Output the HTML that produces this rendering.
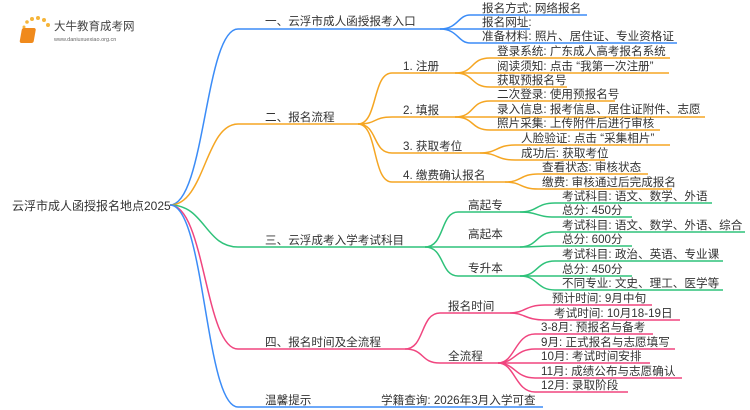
<!DOCTYPE html>
<html><head><meta charset="utf-8"><style>
html,body{margin:0;padding:0;background:#fff;width:750px;height:410px;overflow:hidden}
svg{display:block}
text{font-family:"Liberation Sans","Noto Sans CJK SC",sans-serif;font-size:11.6px;fill:#333}
path{fill:none;stroke-width:1.5}
.b{stroke:#3b8cf7}.o{stroke:#f5a623}.g{stroke:#2fc27a}.p{stroke:#f0457f}
</style></head><body>
<svg width="750" height="410" viewBox="0 0 750 410" xmlns="http://www.w3.org/2000/svg">
<g>
<circle cx="24" cy="27" r="1.5" fill="#f5b53a"/><circle cx="27" cy="22" r="1.8" fill="#f5b53a"/><circle cx="32" cy="19" r="2" fill="#f5b53a"/><circle cx="38" cy="18" r="2" fill="#f5b53a"/><circle cx="44" cy="20" r="2" fill="#f5b53a"/><circle cx="48" cy="25" r="2" fill="#f5b53a"/>
<rect x="27" y="28" width="14" height="15" rx="2" fill="#f08a1c" transform="skewX(-10)"/>
<text x="54" y="30" style="font-size:11.5px;fill:#444">大牛教育成考网</text>
<text x="54" y="41" style="font-size:5.5px;fill:#666">www.daniuxuexiao.org.cn</text>
</g>
<text x="12" y="210" style="font-size:12px">云浮市成人函授报名地点2025</text>
<path class="b" d="M170 205 C205 205 205 29 238 29 H440"/>
<path class="o" d="M170 205 C205 205 205 124 238 124 H358"/>
<path class="g" d="M170 205 C205 205 205 247 238 247 H425"/>
<path class="p" d="M170 205 C205 205 205 349 238 349 H405"/>
<path class="b" d="M170 205 C205 205 205 407 238 407 H543"/>
<text x="265" y="25">一、云浮市成人函授报考入口</text>
<text x="265" y="121">二、报名流程</text>
<text x="265" y="244">三、云浮成考入学考试科目</text>
<text x="265" y="346">四、报名时间及全流程</text>
<text x="265" y="404">温馨提示</text>
<text x="381" y="404">学籍查询: 2026年3月入学可查</text>
<path class="b" d="M440 29 C458 29 458 15 470 15 H587"/>
<path class="b" d="M440 29 H530"/>
<path class="b" d="M440 29 C458 29 458 43 470 43 H677"/>
<text x="482" y="12">报名方式: 网络报名</text>
<text x="482" y="26">报名网址:</text>
<text x="482" y="40">准备材料: 照片、居住证、专业资格证</text>
<path class="o" d="M358 124 C378 124 372 73 392 73 H455"/>
<path class="o" d="M358 124 C378 124 372 117 392 117 H455"/>
<path class="o" d="M358 124 C378 124 372 153 392 153 H480"/>
<path class="o" d="M358 124 C378 124 372 182 392 182 H505"/>
<text x="403" y="70">1. 注册</text>
<text x="403" y="114">2. 填报</text>
<text x="403" y="150">3. 获取考位</text>
<text x="403" y="179">4. 缴费确认报名</text>
<path class="o" d="M455 73 C475 73 470 58 490 58 H670"/>
<path class="o" d="M455 73 H669"/>
<path class="o" d="M455 73 C475 73 470 87 490 87 H567"/>
<text x="497" y="55">登录系统: 广东成人高考报名系统</text>
<text x="497" y="70">阅读须知: 点击 “我第一次注册”</text>
<text x="497" y="84">获取预报名号</text>
<path class="o" d="M455 117 C475 117 470 101 490 101 H615"/>
<path class="o" d="M455 117 H705"/>
<path class="o" d="M455 117 C475 117 470 130 490 130 H660"/>
<text x="497" y="98">二次登录: 使用预报名号</text>
<text x="497" y="113">录入信息: 报考信息、居住证附件、志愿</text>
<text x="497" y="127">照片采集: 上传附件后进行审核</text>
<path class="o" d="M480 153 C498 153 496 145 515 145 H670"/>
<path class="o" d="M480 153 C498 153 496 160 515 160 H605"/>
<text x="521" y="142">人脸验证: 点击 “采集相片”</text>
<text x="521" y="157">成功后: 获取考位</text>
<path class="o" d="M505 182 C522 182 520 174 538 174 H648"/>
<path class="o" d="M505 182 C522 182 520 189 538 189 H672"/>
<text x="542" y="171">查看状态: 审核状态</text>
<text x="542" y="186">缴费: 审核通过后完成报名</text>
<path class="g" d="M425 247 C445 247 440 212 458 212 H520"/>
<path class="g" d="M425 247 H520"/>
<path class="g" d="M425 247 C445 247 440 276 458 276 H520"/>
<text x="468" y="209">高起专</text>
<text x="468" y="238">高起本</text>
<text x="468" y="272">专升本</text>
<path class="g" d="M520 212 C538 212 536 203 555 203 H712"/>
<path class="g" d="M520 212 C538 212 536 217 555 217 H632"/>
<path class="g" d="M520 247 C538 247 536 232 555 232 H745"/>
<path class="g" d="M520 247 C538 247 536 246 555 246 H632"/>
<path class="g" d="M520 276 C538 276 536 261 555 261 H723"/>
<path class="g" d="M520 276 H632"/>
<path class="g" d="M520 276 C538 276 536 290 555 290 H723"/>
<text x="562" y="200">考试科目: 语文、数学、外语</text>
<text x="562" y="214">总分: 450分</text>
<text x="562" y="229">考试科目: 语文、数学、外语、综合</text>
<text x="562" y="243">总分: 600分</text>
<text x="562" y="258">考试科目: 政治、英语、专业课</text>
<text x="562" y="273">总分: 450分</text>
<text x="562" y="287">不同专业: 文史、理工、医学等</text>
<path class="p" d="M405 349 C425 349 420 313 440 313 H510"/>
<path class="p" d="M405 349 C425 349 420 363 440 363 H498"/>
<text x="448" y="310">报名时间</text>
<text x="448" y="360">全流程</text>
<path class="p" d="M510 313 C525 313 525 305 545 305 H652"/>
<path class="p" d="M510 313 C525 313 525 320 545 320 H680"/>
<text x="552" y="302">预计时间: 9月中旬</text>
<text x="554" y="317">考试时间: 10月18-19日</text>
<path class="p" d="M498 363 C515 363 515 334 535 334 H653"/>
<path class="p" d="M498 363 C515 363 515 349 535 349 H675"/>
<path class="p" d="M498 363 H650"/>
<path class="p" d="M498 363 C515 363 515 378 535 378 H682"/>
<path class="p" d="M498 363 C515 363 515 392 535 392 H628"/>
<text x="541" y="331">3-8月: 预报名与备考</text>
<text x="541" y="346">9月: 正式报名与志愿填写</text>
<text x="541" y="360">10月: 考试时间安排</text>
<text x="541" y="375">11月: 成绩公布与志愿确认</text>
<text x="541" y="389">12月: 录取阶段</text>
</svg>
</body></html>
